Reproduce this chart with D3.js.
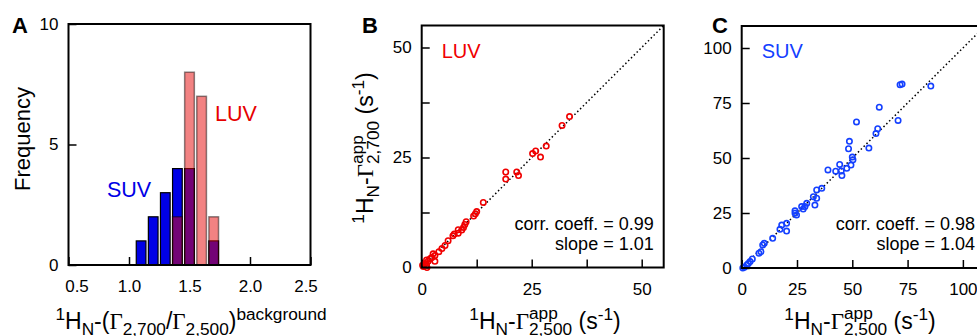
<!DOCTYPE html>
<html lang="en">
<head>
<meta charset="UTF-8">
<script src="https://d3js.org/d3.v7.min.js"></script>
<title>Relaxation rates</title>
<style>
    body { margin: 0; background: #fff; }
    svg { display: block; background: #fff; font-family: 'Liberation Sans', Arial, Helvetica, sans-serif; }
</style>
</head>
<body>
<svg id="canvas" width="977" height="336"></svg>
<script>
// panel A - histogram
let binCenters = [1.1, 1.2, 1.3, 1.4, 1.5, 1.6, 1.7]
let suvCounts = [1, 2, 3, 4, 4, 0, 1]
let luvCounts = [0, 0, 0, 2, 8, 7, 2]
let histXTicks = [0.5, 1.0, 1.5, 2.0, 2.5]
let histYTicks = [0, 5, 10]

// panel B - LUV scatter
let luvX = [33.6, 31.9, 28.3, 27.0, 25.9, 25.2, 21.6, 22.0, 19.1, 19.1, 14.0, 12.5, 12.2, 11.8, 10.1, 9.8, 9.5, 9.1, 8.3, 8.3, 7.4, 7.1, 6.0, 5.3, 4.6, 3.9, 3.0, 2.6, 2.3, 1.9, 3.0, 1.5, 1.1, 1.1, 0.8, 0.4, 1.2, 0.2]
let luvY = [34.3, 32.3, 27.6, 25.1, 26.5, 25.9, 21.7, 20.9, 21.7, 20.1, 14.8, 12.7, 12.2, 11.7, 10.4, 9.8, 9.1, 8.5, 8.6, 7.8, 7.6, 7.2, 6.1, 5.0, 4.3, 3.6, 2.7, 3.1, 2.3, 2.0, 1.4, 1.5, 1.7, 0.6, 0.9, 0.2, 0.0, 0.5]
let luvTicks = [0, 12.5, 25, 37.5, 50]
let luvStats = ['corr. coeff. = 0.99', 'slope = 1.01']

// panel C - SUV scatter
let suvX = [85.5, 72.5, 71.6, 62.2, 51.9, 70.7, 61.5, 60.7, 48.7, 48.3, 57.5, 50.0, 50.3, 49.4, 47.5, 44.3, 45.0, 45.3, 42.5, 39.0, 36.2, 33.9, 33.9, 32.4, 33.1, 29.4, 28.6, 27.1, 27.8, 24.1, 24.1, 24.8, 20.3, 18.1, 17.3, 20.3, 14.0, 10.2, 9.5, 8.7, 7.8, 4.8, 3.8, 3.0, 2.3, 1.2, 0.5]
let suvY = [82.7, 83.6, 83.3, 73.1, 66.4, 67.1, 63.3, 61.1, 57.6, 54.2, 54.5, 50.4, 49.2, 46.8, 45.3, 47.1, 44.1, 42.0, 44.0, 44.6, 36.2, 35.5, 31.7, 32.4, 28.6, 29.4, 27.9, 27.9, 26.8, 26.0, 24.9, 24.1, 20.3, 19.5, 17.6, 16.8, 13.5, 11.2, 10.5, 7.4, 6.7, 4.1, 2.9, 2.1, 1.4, 0.3, 0.0]
let suvTicks = [0, 25, 50, 75, 100]
let suvStats = ['corr. coeff. = 0.98', 'slope = 1.04']

let svg = d3.select('#canvas')

let drawAxes = (xScale, yScale, xTicks, yTicks, fmtX, fmtY) => {
    let xAxis = d3.axisBottom(xScale).tickValues(xTicks).tickSizeInner(-8).tickSizeOuter(0).tickPadding(15).tickFormat(fmtX)
    let yAxis = d3.axisLeft(yScale).tickValues(yTicks).tickSizeInner(-8).tickSizeOuter(0).tickPadding(10).tickFormat(fmtY)
    let gx = svg.append('g').attr('transform', 'translate(0,' + yScale.range()[0] + ')').call(xAxis)
    let gy = svg.append('g').attr('transform', 'translate(' + xScale.range()[0] + ',0)').call(yAxis)
    let axes = [gx, gy]
    axes.forEach(a => {
        a.attr('font-family', null).attr('font-size', 17)
        a.select('.domain').remove()
        a.selectAll('line').attr('stroke', '#000').attr('stroke-width', 1.5)
        a.selectAll('text').attr('fill', '#000')
    })
    return gx
}

let drawFrame = (xScale, yScale) => {
    let xr = xScale.range(), yr = yScale.range()
    svg.append('rect')
        .attr('x', xr[0]).attr('y', yr[1])
        .attr('width', xr[1] - xr[0]).attr('height', yr[0] - yr[1])
        .attr('fill', 'none').attr('stroke', '#000').attr('stroke-width', 2)
}

// text with super/subscripts, centred on (x, y)
let richText = (parts, size, x, y, rotate) => {
    let g = svg.append('g').attr('transform', 'translate(' + x + ',' + y + ')' + (rotate ? ' rotate(-90)' : ''))
    let inner = g.append('g')
    let small = size * 0.75
    let cx = 0
    let add = (txt, fs, dy, fam) => {
        let t = inner.append('text').attr('x', cx).attr('y', dy).attr('font-size', fs).attr('fill', '#000').text(txt)
        if (fam) t.attr('font-family', fam)
        return t.node().getComputedTextLength()
    }
    parts.forEach(p => {
        let txt = p[0], kind = p[1] || ''
        if (kind === 'sup') cx += add(txt, small, -size * 0.4)
        else if (kind === 'sub') cx += add(txt, small, size * 0.27)
        else if (kind === 'g') cx += add(txt, size, 0, "'Liberation Serif', serif")
        else if (kind === 'stack') {
            let w1 = add(txt, small, -size * 0.42)
            let w2 = add(p[2], small, size * 0.27)
            cx += Math.max(w1, w2)
        }
        else cx += add(txt, size, 0)
    })
    inner.attr('transform', 'translate(' + (-cx / 2) + ',0)')
}

let panelLetter = (txt, x) => {
    svg.append('text').attr('x', x).attr('y', 33).attr('font-size', 22).attr('font-weight', 'bold').text(txt)
}

// ---------- A ----------
let hx = d3.scaleLinear().domain([0.5, 2.5]).range([68.5, 310.5])
let hy = d3.scaleLinear().domain([0, 10]).range([265, 24])
let gxA = drawAxes(hx, hy, histXTicks, histYTicks, d3.format('.1f'), d3.format('d'))
// end labels sit inside the frame
gxA.selectAll('text').attr('dx', d => d === 0.5 ? 8 : (d === 2.5 ? -5 : 0))

let binW = 0.08
svg.append('g').selectAll('rect')
    .data(binCenters.map((c, i) => ({ c: c, n: suvCounts[i] })).filter(d => d.n > 0))
    .enter().append('rect')
    .attr('x', d => hx(d.c - binW / 2))
    .attr('width', d => hx(d.c + binW / 2) - hx(d.c - binW / 2))
    .attr('y', d => hy(d.n))
    .attr('height', d => hy(0) - hy(d.n))
    .attr('fill', '#0000e6').attr('stroke', '#000').attr('stroke-width', 1.2)

svg.append('g').selectAll('rect')
    .data(binCenters.map((c, i) => ({ c: c, n: luvCounts[i] })).filter(d => d.n > 0))
    .enter().append('rect')
    .attr('x', d => hx(d.c - binW / 2))
    .attr('width', d => hx(d.c + binW / 2) - hx(d.c - binW / 2))
    .attr('y', d => hy(d.n))
    .attr('height', d => hy(0) - hy(d.n))
    .attr('fill', 'rgb(229,5,5)').attr('fill-opacity', 0.5)
    .attr('stroke', '#000').attr('stroke-opacity', 0.45).attr('stroke-width', 1.5)

drawFrame(hx, hy)
svg.append('text').attr('x', 107).attr('y', 197).attr('font-size', 21.5).attr('fill', '#0000e6').text('SUV')
svg.append('text').attr('x', 215).attr('y', 121).attr('font-size', 21.5).attr('fill', '#e60000').text('LUV')
panelLetter('A', 12)
richText([['Frequency']], 22, 30, 139, true)
richText([['1', 'sup'], ['H'], ['N', 'sub'], ['-('], ['Γ', 'g'], ['2,700', 'sub'], ['/'], ['Γ', 'g'], ['2,500', 'sub'], [')'], ['background', 'sup']], 23, 191, 329, false)

// ---------- B and C ----------
let drawScatter = (xs, ys, xScale, yScale, ticks, labelEvery, color, name, stats) => {
    let fmt = d => (d % labelEvery === 0 ? d : '')
    drawAxes(xScale, yScale, ticks, ticks, fmt, fmt)
    let dmax = xScale.domain()[1]
    svg.append('line')
        .attr('x1', xScale(0)).attr('y1', yScale(0))
        .attr('x2', xScale(dmax)).attr('y2', yScale(dmax))
        .attr('stroke', '#000').attr('stroke-width', 1.5).attr('stroke-dasharray', '1.5,2.5')
    svg.append('g').selectAll('circle')
        .data(xs.map((x, i) => [x, ys[i]]))
        .enter().append('circle')
        .attr('cx', d => xScale(d[0]))
        .attr('cy', d => yScale(d[1]))
        .attr('r', 2.7)
        .attr('fill', 'none').attr('stroke', color).attr('stroke-width', 1.6)
    drawFrame(xScale, yScale)
    let left = xScale.range()[0]
    svg.append('text').attr('x', left + 20).attr('y', 58).attr('font-size', 20).attr('fill', color).text(name)
    let right = Math.min(xScale.range()[1], 987) - 10
    stats.forEach((s, i) => {
        svg.append('text').attr('x', right).attr('y', 230 + i * 20).attr('font-size', 18)
            .attr('text-anchor', 'end').attr('fill', '#000').text(s)
    })
}

let rateLabel = sub => [['1', 'sup'], ['H'], ['N', 'sub'], ['-'], ['Γ', 'g'], ['app', 'stack', sub], ['\u00a0(s'], ['-1', 'sup'], [')']]

let bx = d3.scaleLinear().domain([0, 55]).range([421.7, 663.7])
let by = d3.scaleLinear().domain([0, 55]).range([267.5, 25.5])
drawScatter(luvX, luvY, bx, by, luvTicks, 25, '#f00000', 'LUV', luvStats)
panelLetter('B', 362)
richText(rateLabel('2,700'), 23, 373, 148, true)
richText(rateLabel('2,500'), 23, 545, 329, false)

let cx = d3.scaleLinear().domain([0, 110]).range([741.7, 985])
let cy = d3.scaleLinear().domain([0, 110]).range([268, 26])
drawScatter(suvX, suvY, cx, cy, suvTicks, 25, '#1440ff', 'SUV', suvStats)
panelLetter('C', 712)
richText(rateLabel('2,500'), 23, 860, 329, false)
</script>
</body>
</html>
